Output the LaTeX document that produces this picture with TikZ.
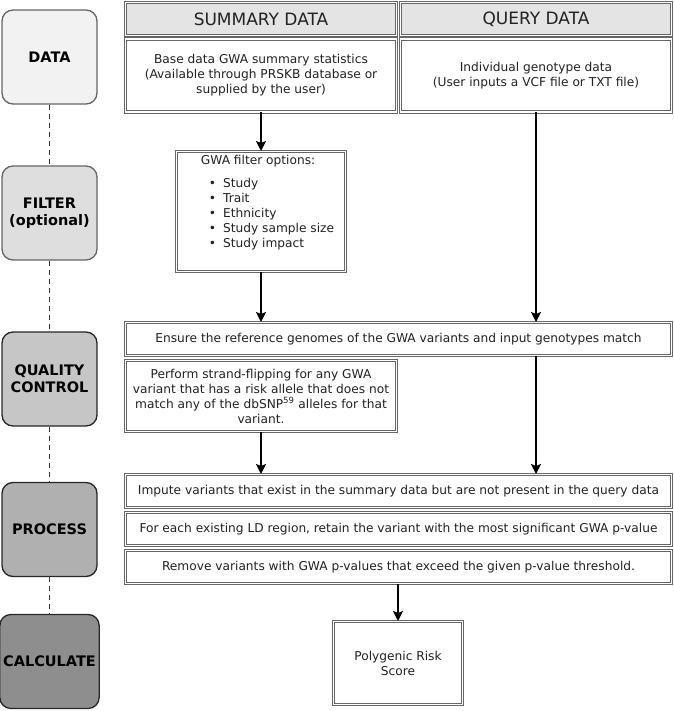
\documentclass[tikz,border=0pt]{standalone}
\usepackage{fontspec}
\setmainfont{DejaVu Sans}
\usetikzlibrary{arrows.meta,positioning}

\definecolor{stageA}{HTML}{F2F2F2}
\definecolor{stageB}{HTML}{DEDEDE}
\definecolor{stageC}{HTML}{C6C6C6}
\definecolor{stageD}{HTML}{B0B0B0}
\definecolor{stageE}{HTML}{8E8E8E}
\definecolor{headfill}{HTML}{E4E4E4}
\definecolor{boxline}{HTML}{666666}
\definecolor{txt}{HTML}{222222}

\tikzset{
  stage/.style={draw=#1, rounded corners=11pt, line width=1.3pt, minimum width=95pt,
    minimum height=94pt, align=center, font=\fontsize{14.5}{17}\selectfont\bfseries, text=black},
  dbox/.style={draw=boxline, double, double distance=1.6pt, line width=1pt, fill=white,
    align=center, inner sep=2pt, text=txt, font=\fontsize{12.2}{15}\selectfont},
  headbox/.style={dbox, fill=headfill, font=\fontsize{17}{19}\selectfont},
  flow/.style={line width=2pt, -{Stealth[length=10pt,width=10pt,inset=2pt]}},
  tie/.style={line width=1.3pt, dash pattern=on 5pt off 4pt, draw=black!80}
}

\begin{document}
\begin{tikzpicture}[x=1pt, y=-1pt]
    \useasboundingbox (0,0) rectangle (673,711);
    % stages
    \node[stage=boxline, fill=stageA] (sdata) at (49.5,57) {DATA};
    \node[stage=boxline, fill=stageB] (sfilt) at (49.5,213) {FILTER\\(optional)};
    \node[stage=black!85, fill=stageC] (sqc) at (49.5,379) {QUALITY\\CONTROL};
    \node[stage=black!85, fill=stageD] (sproc) at (49.5,529.5) {PROCESS};
    \node[stage=black!85, fill=stageE] (scalc) at (49.5,661.5) {CALCULATE};
    % dashed ties
    \draw[tie] (sdata) -- (sfilt);
    \draw[tie] (sfilt) -- (sqc);
    \draw[tie] (sqc) -- (sproc);
    \draw[tie] (sproc) -- (scalc);
    % headers
    \node[headbox, minimum width=271pt, minimum height=33pt] (hsum) at (261,19) {SUMMARY DATA};
    \node[headbox, minimum width=271pt, minimum height=33pt] (hqry) at (536,19) {QUERY DATA};
    % data
    \node[dbox, minimum width=271pt, minimum height=73pt] (sumdat) at (261,75.5)
        {Base data GWA summary statistics\\(Available through PRSKB database or\\supplied by the user)};
    \node[dbox, minimum width=271pt, minimum height=73pt] (qrydat) at (536,75.5)
        {Individual genotype data\\(User inputs a VCF file or TXT file)};
    % filter
    \node[dbox, minimum width=169pt, minimum height=120pt, align=left] (filter) at (261,211.5)
        {\hspace*{13pt}GWA filter options:\\[8pt]
         \hspace*{21pt}\textbullet\hspace{7pt}Study\\
         \hspace*{21pt}\textbullet\hspace{7pt}Trait\\
         \hspace*{21pt}\textbullet\hspace{7pt}Ethnicity\\
         \hspace*{21pt}\textbullet\hspace{7pt}Study sample size\\
         \hspace*{21pt}\textbullet\hspace{7pt}Study impact\\[6pt]};
    % quality control
    \node[dbox, minimum width=546pt, minimum height=33pt] (qc1) at (398.5,339)
        {Ensure the reference genomes of the GWA variants and input genotypes match};
    \node[dbox, minimum width=271pt, minimum height=71pt] (qc2) at (261,396)
        {Perform strand-flipping for any GWA\\variant that has a risk allele that does not\\match any of the dbSNP\textsuperscript{59} alleles for that\\variant.};
    % process
    \node[dbox, minimum width=546pt, minimum height=33pt] (proc1) at (398.5,491)
        {Impute variants that exist in the summary data but are not present in the query data};
    \node[dbox, minimum width=546pt, minimum height=33pt] (proc2) at (398.5,529)
        {For each existing LD region, retain the variant with the most significant GWA p-value};
    \node[dbox, minimum width=546pt, minimum height=33pt] (proc3) at (398.5,567)
        {Remove variants with GWA p-values that exceed the given p-value threshold.};
    % calculate
    \node[dbox, minimum width=129pt, minimum height=83pt] (prs) at (398,663)
        {Polygenic Risk\\Score};
    % arrows
    \draw[flow] (sumdat.south) -- (filter.north);
    \draw[flow] (filter.south) -- (filter.south |- qc1.north);
    \draw[flow] (qrydat.south) -- (qrydat.south |- qc1.north);
    \draw[flow] (qc2.south) -- (qc2.south |- proc1.north);
    \draw[flow] (qrydat.south |- qc1.south) -- (qrydat.south |- proc1.north);
    \draw[flow] (prs.north |- proc3.south) -- (prs.north);
\end{tikzpicture}
\end{document}
